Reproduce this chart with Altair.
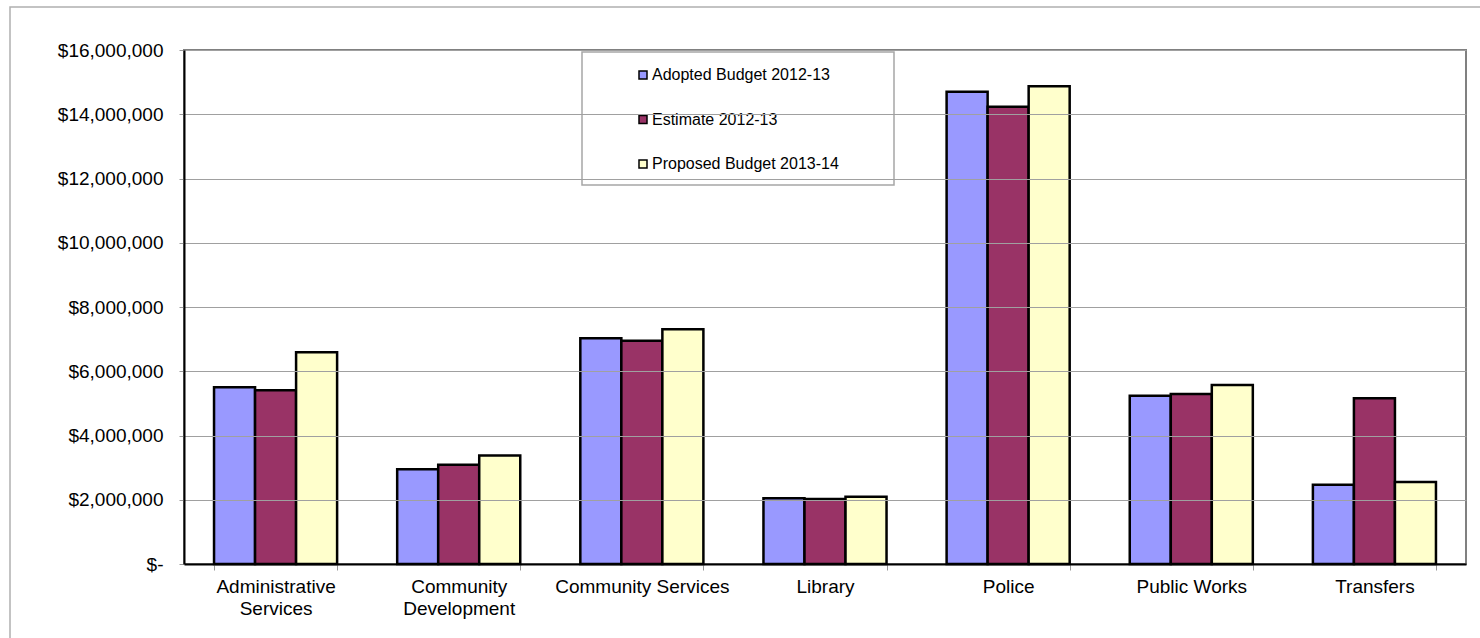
import altair as alt
import pandas as pd

categories = ["Administrative Services", "Community Development", "Community Services",
              "Library", "Police", "Public Works", "Transfers"]
series = ["Adopted Budget 2012-13", "Estimate 2012-13", "Proposed Budget 2013-14"]
adopted = [5500000, 2950000, 7030000, 2050000, 14700000, 5240000, 2470000]
estimate = [5410000, 3090000, 6950000, 2020000, 14230000, 5290000, 5160000]
proposed = [6590000, 3380000, 7310000, 2090000, 14870000, 5570000, 2550000]
colors = ["#9999FF", "#993366", "#FFFFCC"]
y_ticks = [0, 2000000, 4000000, 6000000, 8000000, 10000000, 12000000, 14000000, 16000000]

rows = []
for s, vals in zip(series, [adopted, estimate, proposed]):
    for c, v in zip(categories, vals):
        rows.append({"Department": c, "Series": s, "Amount": v})
df = pd.DataFrame(rows)

FONT = "Liberation Sans"

bars = alt.Chart(df).mark_bar(stroke="black", strokeWidth=2.5).encode(
    x=alt.X("Department:N", sort=categories,
            scale=alt.Scale(paddingInner=0.328, paddingOuter=0.164),
            axis=alt.Axis(title=None, labelAngle=0, tickBand="extent", ticks=True,
                          tickSize=6, tickColor="#999999", domainColor="black",
                          domainWidth=2, labelFont=FONT, labelFontSize=19,
                          labelColor="black", labelPadding=7, labelBaseline="top",
                          labelLineHeight=22, zindex=1, labelLimit=0,
                          labelExpr="(datum.label == 'Administrative Services' || datum.label == 'Community Development') ? split(datum.label, ' ') : datum.label")),
    xOffset=alt.XOffset("Series:N", sort=series, scale=alt.Scale(paddingInner=0, paddingOuter=0)),
    y=alt.Y("Amount:Q", scale=alt.Scale(domain=[0, 16000000], nice=False),
            axis=alt.Axis(title=None, values=y_ticks, grid=True, gridColor="#a0a0a0",
                          gridWidth=1, tickSize=5, tickColor="#999999",
                          domainColor="black", domainWidth=2, labelFont=FONT,
                          labelFontSize=19, labelColor="black", labelPadding=16,
                          zindex=1, labelLimit=0,
                          labelExpr="datum.value == 0 ? '$-' : '$' + format(datum.value, ',')")),
    color=alt.Color("Series:N", sort=series,
                    scale=alt.Scale(domain=series, range=colors),
                    legend=alt.Legend(title=None, orient="none", legendX=451, legendY=17,
                                      symbolType="square", symbolSize=64,
                                      symbolStrokeColor="black", symbolStrokeWidth=1.5,
                                      symbolOpacity=1, labelFont=FONT, labelFontSize=16,
                                      labelColor="black", rowPadding=28.5, labelOffset=1,
                                      labelLimit=0, padding=0)),
)

one = alt.Data(values=[{"k": 1}])

legend_box = alt.Chart(one).mark_rect(fill="white", stroke="#a6a6a6", strokeWidth=1.5).encode(
    x=alt.value(398), x2=alt.value(710), y=alt.value(2), y2=alt.value(135)
)

outer_frame = alt.Chart(one).mark_rect(fill=None, stroke="#b0b0b0", strokeWidth=1.5).encode(
    x=alt.value(-174), x2=alt.value(1310), y=alt.value(-43), y2=alt.value(600)
)

chart = alt.layer(outer_frame, bars, legend_box).properties(
    width=1282, height=514,
    autosize=alt.AutoSizeParams(type="none"),
    padding={"left": 184, "top": 50, "right": 14, "bottom": 74},
    background="white",
).configure_view(stroke="#808080", strokeWidth=2)

chart.save("out.html", embed_options={"renderer": "svg", "actions": False})
